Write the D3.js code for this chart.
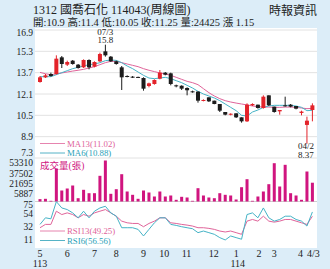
<!DOCTYPE html>
<html><head><meta charset="utf-8">
<script src="https://cdn.jsdelivr.net/npm/d3@7"></script>
<style>
html,body{margin:0;padding:0;background:#dcedf8;}
svg{display:block;}
text{font-family:"Liberation Serif","Noto Sans CJK TC",serif;}
</style></head>
<body><svg id="c" width="330" height="269"></svg>
<script>
// ---- data ----
const opens  = [13.0,13.35,13.6,13.6,14.85,14.3,14.6,14.3,14.1,14.65,14.15,14.55,15.3,14.9,14.55,14.1,13.45,13.4,13.38,13.3,12.7,12.85,13.25,13.7,13.65,12.75,12.72,12.55,12.3,12.28,11.6,11.85,11.6,11.35,10.75,10.55,10.65,10.35,10.05,11.25,11.3,11.05,12.0,11.15,10.8,11.25,11.3,11.2,10.68,9.78,10.9];
const highs  = [13.45,13.6,13.7,15.0,14.95,14.6,14.65,14.35,14.7,14.7,14.55,15.2,15.8,14.95,14.6,14.2,13.5,13.45,13.4,13.35,12.95,13.2,13.9,13.75,13.7,12.8,12.75,12.6,12.35,12.3,11.7,11.85,11.6,11.35,10.75,10.65,10.65,10.35,11.4,11.4,11.3,12.0,12.0,11.15,10.9,11.9,11.35,11.2,10.85,10.4,11.4];
const lows   = [12.95,13.3,13.4,13.55,14.05,14.2,14.3,14.0,14.05,13.95,14.1,14.5,14.9,14.5,14.3,12.4,13.35,13.3,13.3,12.35,12.6,12.8,13.2,13.5,12.75,12.6,12.4,12.0,12.2,11.45,11.55,11.5,11.33,10.75,10.5,10.5,10.3,9.95,10.0,11.2,11.0,11.0,11.2,10.7,10.55,11.15,11.1,10.95,10.5,8.37,10.05];
const closes = [13.35,13.5,13.45,14.75,14.35,14.5,14.35,14.05,14.65,14.1,14.5,15.1,15.0,14.55,14.35,13.35,13.4,13.38,13.33,12.5,12.9,13.15,13.7,13.55,12.85,12.72,12.5,12.38,12.25,11.6,11.65,11.55,11.35,10.85,10.55,10.62,10.35,10.05,11.3,11.35,11.05,11.9,11.25,10.75,10.9,11.22,11.15,11.0,10.78,10.1,11.25];
const ma13 = [13.72,13.62,13.55,13.6,13.68,13.75,13.82,13.88,13.95,14.05,14.15,14.3,14.45,14.55,14.55,14.45,14.35,14.25,14.15,14.0,13.88,13.78,13.68,13.6,13.5,13.35,13.2,13.05,12.95,12.8,12.5,12.2,11.95,11.75,11.6,11.5,11.42,11.35,11.28,11.2,11.15,11.12,11.12,11.1,11.1,11.12,11.12,11.1,11.05,11.0,11.02];
const ma6  = [13.4,13.4,13.4,13.55,13.7,13.85,14.0,14.1,14.2,14.3,14.35,14.45,14.6,14.65,14.62,14.45,14.2,14.0,13.75,13.5,13.3,13.25,13.3,13.35,13.25,13.1,12.95,12.75,12.55,12.3,12.1,11.95,11.8,11.6,11.35,11.1,10.85,10.5,10.45,10.75,10.9,11.1,11.2,11.25,11.25,11.25,11.25,11.2,11.1,10.85,10.88];
const volumes = [3100,3500,900,42900,14300,16900,20800,4300,15200,10800,10800,33400,53310,10000,16000,35500,13000,8700,3500,14300,11700,6500,13000,6500,7800,2200,6100,5200,900,17300,7800,5200,4300,10800,8700,7800,2600,18600,29000,900,6500,13000,22500,49800,19500,47700,10800,7800,2200,39000,24425];
const rsi13 = [30,35.6,35.6,57.8,52.2,55,52.2,46.7,52.2,49.4,55,57.8,60.6,55,49.4,41.1,38.3,37.2,37.2,31.7,37.2,41.1,46.7,46.7,38.3,37.2,35.6,34.4,32.8,30,30,28.9,27.2,24.4,22.8,24.4,21.7,18.9,41.1,43.9,41.1,49.4,41.1,39.4,41.1,43.9,43.9,41.1,38.3,35.6,49.25];
const rsi6  = [35.6,46.7,45,74,63.3,60.6,55,46.7,57.8,46.7,57.8,63.3,66.1,55,49.4,30,30,30,27.2,16.1,27.2,38.3,46.7,46.7,35.6,33.9,31.7,30,28.3,21.7,24.4,21.7,18.9,13.3,9.4,16.1,13.3,10.6,52.2,55,46.7,63.3,46.7,41.1,43.9,49.4,49.4,43.9,41.1,32.8,56.56];
const priceTicks = [16.9,15.3,13.7,12.1,10.5,8.9,7.3];
const volTicks = [53310,37502,21695,5887];
const rsiTicks = [75,54,32,11];
const monthLabels = ["5","6","7","8","9","10","11","12","1","2","3","4","4/3"];
const monthIdx = [0,5,10,14,19,22.8,26.9,31.9,36,40.2,43,47.8,50.2];
const yearLabels = ["113","114"];
const yearIdx = [0,36.3];

// ---- layout ----
const svg = d3.select("#c");
const n = closes.length;
const panel = {x0:35, x1:317, y0:28, y1:248};
const x = d3.scalePoint().domain(d3.range(n)).range([40,312.4]);
const yP = d3.scaleLinear().domain([7.3,16.9]).range([158,30]);
const yV = d3.scaleLinear().domain([0,53310]).range([201.5,160.5]);
const yR = d3.scaleLinear().domain([11,75]).range([239,201]);
const RED="#e3232a", BLK="#1c1c1c", PINK="#e0649a", TEAL="#45b3c6", VOL="#d0157f";

svg.append("rect").attr("x",panel.x0).attr("y",panel.y0).attr("width",panel.x1-panel.x0).attr("height",panel.y1-panel.y0).attr("fill","#fff");

// titles
svg.append("text").attr("x",33).attr("y",14).attr("font-size",12).attr("fill","#222").text("1312  國喬石化 114043(周線圖)");
svg.append("text").attr("x",33).attr("y",26).attr("font-size",10.5).attr("fill","#222").text("開:10.9 高:11.4 低:10.05 收:11.25 量:24425 漲 1.15");
svg.append("text").attr("x",317).attr("y",15).attr("text-anchor","end").attr("font-size",12).attr("fill","#222").text("時報資訊");

// price grid
const g = svg.append("g");
g.selectAll(".pg").data(priceTicks).join("line").attr("x1",panel.x0).attr("x2",panel.x1)
 .attr("y1",d=>yP(d)).attr("y2",d=>yP(d)).attr("stroke","#e2e2e2").attr("stroke-width",1);
g.append("line").attr("x1",panel.x0).attr("x2",panel.x1).attr("y1",yV(0)).attr("y2",yV(0)).attr("stroke","#cfcfcf");

// axis labels (left)
const lab = svg.append("g").attr("font-size",9.5).attr("fill","#222").attr("text-anchor","end");
lab.selectAll(".pl").data(priceTicks).join("text").attr("x",33)
 .attr("y",d=>Math.min(Math.max(yP(d)+3.5,36),156)).text(d=>d.toFixed(1));
const volLabY = [166,176.5,187,197];
lab.selectAll(".vl").data(volTicks).join("text").attr("x",33).attr("y",(d,i)=>volLabY[i]).text(d=>d);
lab.selectAll(".rl").data(rsiTicks).join("text").attr("x",33).attr("y",d=>Math.max(yR(d)+3.5,207.5)).text(d=>d);

// legends
function legend(yv, color, txt){
  svg.append("line").attr("x1",40).attr("x2",65).attr("y1",yv-3).attr("y2",yv-3).attr("stroke",color).attr("stroke-width",0.8);
  svg.append("text").attr("x",67).attr("y",yv).attr("font-size",8.8).attr("fill",color).text(txt);
}
legend(146.5, PINK, "MA13(11.02)");
legend(156, "#2a9fb8", "MA6(10.88)");
svg.append("text").attr("x",40).attr("y",169).attr("font-size",9.5).attr("fill",VOL).text("成交量(張)");
legend(234, PINK, "RSI13(49.25)");
legend(243.5, "#2a9fb8", "RSI6(56.56)");

// MA lines
const lineP = d3.line().x((d,i)=>x(i)).y(d=>yP(d));
svg.append("path").attr("d",lineP(ma13)).attr("fill","none").attr("stroke",PINK).attr("stroke-width",1);
svg.append("path").attr("d",lineP(ma6)).attr("fill","none").attr("stroke",TEAL).attr("stroke-width",1);

// candles
const data = d3.range(n).map(i=>({i,o:opens[i],h:highs[i],l:lows[i],c:closes[i]}));
const cg = svg.append("g");
cg.selectAll(".w").data(data).join("line").attr("x1",d=>x(d.i)).attr("x2",d=>x(d.i))
 .attr("y1",d=>yP(d.h)).attr("y2",d=>yP(d.l)).attr("stroke",d=>d.c>=d.o?RED:BLK).attr("stroke-width",1);
cg.selectAll(".b").data(data).join("rect").attr("x",d=>x(d.i)-2).attr("width",4)
 .attr("y",d=>yP(Math.max(d.o,d.c))).attr("height",d=>Math.max(1,Math.abs(yP(d.o)-yP(d.c))))
 .attr("fill",d=>d.c>=d.o?RED:BLK);

// peak / low annotations
const pk = d3.maxIndex(highs), lo = d3.minIndex(lows);
const ann = svg.append("g").attr("font-size",9).attr("fill","#222").attr("text-anchor","middle");
ann.append("text").attr("x",x(pk)).attr("y",yP(highs[pk])-10).text("07/3");
ann.append("text").attr("x",x(pk)).attr("y",yP(highs[pk])-1.5).text(highs[pk].toFixed(1));
ann.append("text").attr("x",x(lo)-1).attr("y",yP(lows[lo])+5.5).text("04/2");
ann.append("text").attr("x",x(lo)-1).attr("y",yP(lows[lo])+14).text(lows[lo].toFixed(2));

// volume
svg.append("g").selectAll("rect").data(volumes).join("rect")
 .attr("x",(d,i)=>x(i)-1.5).attr("width",3).attr("y",d=>yV(d)).attr("height",d=>yV(0)-yV(d)).attr("fill",VOL);

// RSI
const lineR = d3.line().x((d,i)=>x(i)).y(d=>yR(d));
svg.append("path").attr("d",lineR(rsi13)).attr("fill","none").attr("stroke",PINK).attr("stroke-width",1);
svg.append("path").attr("d",lineR(rsi6)).attr("fill","none").attr("stroke",TEAL).attr("stroke-width",1);

// x labels
const xl = svg.append("g").attr("font-size",10).attr("fill","#222").attr("text-anchor","middle");
xl.selectAll(".m").data(monthLabels).join("text").attr("x",(d,i)=>40+monthIdx[i]*(x(1)-x(0))).attr("y",257).text(d=>d);
xl.selectAll(".yr").data(yearLabels).join("text").attr("x",(d,i)=>40+yearIdx[i]*(x(1)-x(0))).attr("y",267).text(d=>d);
</script></body></html>
